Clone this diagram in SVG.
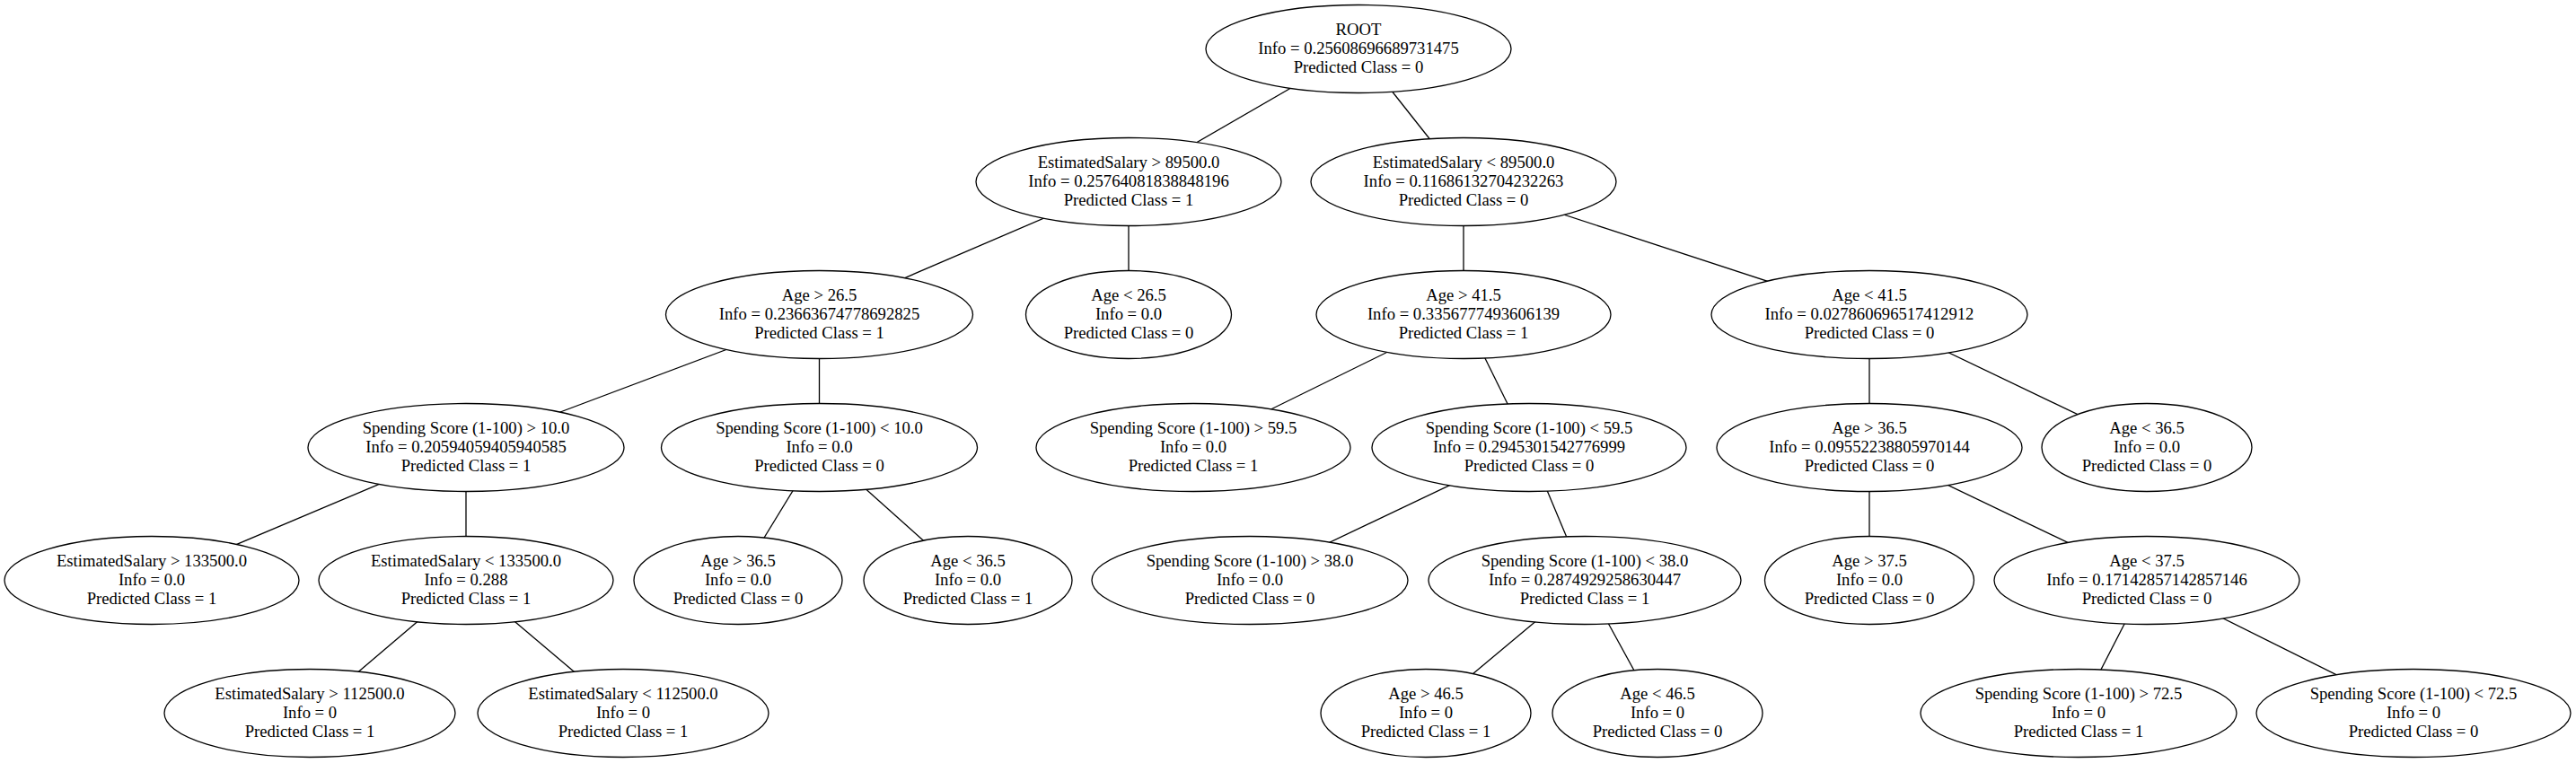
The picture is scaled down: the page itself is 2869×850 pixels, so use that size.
<svg xmlns="http://www.w3.org/2000/svg" width="2869" height="850" viewBox="0 0 2869 850">
<style>
.n ellipse{fill:#fff;stroke:#000;stroke-width:1.3}
.n text{font-family:"Liberation Serif","Times New Roman",serif;font-size:18.67px;text-anchor:middle;fill:#000}
#edges line{stroke:#000;stroke-width:1.3}
</style>
<rect width="2869" height="850" fill="#fff"/>
<g id="edges">
<line x1="1513" y1="54.5" x2="1257" y2="202.5"/>
<line x1="1513" y1="54.5" x2="1630" y2="202.5"/>
<line x1="1257" y1="202.5" x2="912.5" y2="350.5"/>
<line x1="1257" y1="202.5" x2="1257" y2="350.5"/>
<line x1="1630" y1="202.5" x2="1630" y2="350.5"/>
<line x1="1630" y1="202.5" x2="2082" y2="350.5"/>
<line x1="912.5" y1="350.5" x2="519" y2="498.5"/>
<line x1="912.5" y1="350.5" x2="912.5" y2="498.5"/>
<line x1="1630" y1="350.5" x2="1329" y2="498.5"/>
<line x1="1630" y1="350.5" x2="1703" y2="498.5"/>
<line x1="2082" y1="350.5" x2="2082" y2="498.5"/>
<line x1="2082" y1="350.5" x2="2391" y2="498.5"/>
<line x1="519" y1="498.5" x2="169" y2="646.5"/>
<line x1="519" y1="498.5" x2="519" y2="646.5"/>
<line x1="912.5" y1="498.5" x2="822" y2="646.5"/>
<line x1="912.5" y1="498.5" x2="1078" y2="646.5"/>
<line x1="1703" y1="498.5" x2="1392" y2="646.5"/>
<line x1="1703" y1="498.5" x2="1765" y2="646.5"/>
<line x1="2082" y1="498.5" x2="2082" y2="646.5"/>
<line x1="2082" y1="498.5" x2="2391" y2="646.5"/>
<line x1="519" y1="646.5" x2="345" y2="794.5"/>
<line x1="519" y1="646.5" x2="694" y2="794.5"/>
<line x1="1765" y1="646.5" x2="1588" y2="794.5"/>
<line x1="1765" y1="646.5" x2="1846" y2="794.5"/>
<line x1="2391" y1="646.5" x2="2315" y2="794.5"/>
<line x1="2391" y1="646.5" x2="2688" y2="794.5"/>
</g>
<g id="root" class="n" transform="translate(1513,54.5)"><ellipse rx="170" ry="49"/><text><tspan x="0" y="-16">ROOT</tspan><tspan x="0" y="5">Info = 0.25608696689731475</tspan><tspan x="0" y="26">Predicted Class = 0</tspan></text></g>
<g id="n_A" class="n" transform="translate(1257,202.5)"><ellipse rx="170" ry="49"/><text><tspan x="0" y="-16">EstimatedSalary &gt; 89500.0</tspan><tspan x="0" y="5">Info = 0.25764081838848196</tspan><tspan x="0" y="26">Predicted Class = 1</tspan></text></g>
<g id="n_B" class="n" transform="translate(1630,202.5)"><ellipse rx="170" ry="49"/><text><tspan x="0" y="-16">EstimatedSalary &lt; 89500.0</tspan><tspan x="0" y="5">Info = 0.11686132704232263</tspan><tspan x="0" y="26">Predicted Class = 0</tspan></text></g>
<g id="n_A1" class="n" transform="translate(912.5,350.5)"><ellipse rx="171" ry="49"/><text><tspan x="0" y="-16">Age &gt; 26.5</tspan><tspan x="0" y="5">Info = 0.23663674778692825</tspan><tspan x="0" y="26">Predicted Class = 1</tspan></text></g>
<g id="n_A2" class="n" transform="translate(1257,350.5)"><ellipse rx="114.5" ry="49"/><text><tspan x="0" y="-16">Age &lt; 26.5</tspan><tspan x="0" y="5">Info = 0.0</tspan><tspan x="0" y="26">Predicted Class = 0</tspan></text></g>
<g id="n_B1" class="n" transform="translate(1630,350.5)"><ellipse rx="164" ry="49"/><text><tspan x="0" y="-16">Age &gt; 41.5</tspan><tspan x="0" y="5">Info = 0.3356777493606139</tspan><tspan x="0" y="26">Predicted Class = 1</tspan></text></g>
<g id="n_B2" class="n" transform="translate(2082,350.5)"><ellipse rx="176" ry="49"/><text><tspan x="0" y="-16">Age &lt; 41.5</tspan><tspan x="0" y="5">Info = 0.027860696517412912</tspan><tspan x="0" y="26">Predicted Class = 0</tspan></text></g>
<g id="n_A1a" class="n" transform="translate(519,498.5)"><ellipse rx="176" ry="49"/><text><tspan x="0" y="-16">Spending Score (1-100) &gt; 10.0</tspan><tspan x="0" y="5">Info = 0.20594059405940585</tspan><tspan x="0" y="26">Predicted Class = 1</tspan></text></g>
<g id="n_A1b" class="n" transform="translate(912.5,498.5)"><ellipse rx="176" ry="49"/><text><tspan x="0" y="-16">Spending Score (1-100) &lt; 10.0</tspan><tspan x="0" y="5">Info = 0.0</tspan><tspan x="0" y="26">Predicted Class = 0</tspan></text></g>
<g id="n_B1a" class="n" transform="translate(1329,498.5)"><ellipse rx="175" ry="49"/><text><tspan x="0" y="-16">Spending Score (1-100) &gt; 59.5</tspan><tspan x="0" y="5">Info = 0.0</tspan><tspan x="0" y="26">Predicted Class = 1</tspan></text></g>
<g id="n_B1b" class="n" transform="translate(1703,498.5)"><ellipse rx="175" ry="49"/><text><tspan x="0" y="-16">Spending Score (1-100) &lt; 59.5</tspan><tspan x="0" y="5">Info = 0.2945301542776999</tspan><tspan x="0" y="26">Predicted Class = 0</tspan></text></g>
<g id="n_B2a" class="n" transform="translate(2082,498.5)"><ellipse rx="170" ry="49"/><text><tspan x="0" y="-16">Age &gt; 36.5</tspan><tspan x="0" y="5">Info = 0.09552238805970144</tspan><tspan x="0" y="26">Predicted Class = 0</tspan></text></g>
<g id="n_B2b" class="n" transform="translate(2391,498.5)"><ellipse rx="117" ry="49"/><text><tspan x="0" y="-16">Age &lt; 36.5</tspan><tspan x="0" y="5">Info = 0.0</tspan><tspan x="0" y="26">Predicted Class = 0</tspan></text></g>
<g id="n_A1a1" class="n" transform="translate(169,646.5)"><ellipse rx="164" ry="49"/><text><tspan x="0" y="-16">EstimatedSalary &gt; 133500.0</tspan><tspan x="0" y="5">Info = 0.0</tspan><tspan x="0" y="26">Predicted Class = 1</tspan></text></g>
<g id="n_A1a2" class="n" transform="translate(519,646.5)"><ellipse rx="164" ry="49"/><text><tspan x="0" y="-16">EstimatedSalary &lt; 133500.0</tspan><tspan x="0" y="5">Info = 0.288</tspan><tspan x="0" y="26">Predicted Class = 1</tspan></text></g>
<g id="n_A1b1" class="n" transform="translate(822,646.5)"><ellipse rx="116" ry="49"/><text><tspan x="0" y="-16">Age &gt; 36.5</tspan><tspan x="0" y="5">Info = 0.0</tspan><tspan x="0" y="26">Predicted Class = 0</tspan></text></g>
<g id="n_A1b2" class="n" transform="translate(1078,646.5)"><ellipse rx="116" ry="49"/><text><tspan x="0" y="-16">Age &lt; 36.5</tspan><tspan x="0" y="5">Info = 0.0</tspan><tspan x="0" y="26">Predicted Class = 1</tspan></text></g>
<g id="n_B1b1" class="n" transform="translate(1392,646.5)"><ellipse rx="176" ry="49"/><text><tspan x="0" y="-16">Spending Score (1-100) &gt; 38.0</tspan><tspan x="0" y="5">Info = 0.0</tspan><tspan x="0" y="26">Predicted Class = 0</tspan></text></g>
<g id="n_B1b2" class="n" transform="translate(1765,646.5)"><ellipse rx="174" ry="49"/><text><tspan x="0" y="-16">Spending Score (1-100) &lt; 38.0</tspan><tspan x="0" y="5">Info = 0.2874929258630447</tspan><tspan x="0" y="26">Predicted Class = 1</tspan></text></g>
<g id="n_B2a1" class="n" transform="translate(2082,646.5)"><ellipse rx="116.5" ry="49"/><text><tspan x="0" y="-16">Age &gt; 37.5</tspan><tspan x="0" y="5">Info = 0.0</tspan><tspan x="0" y="26">Predicted Class = 0</tspan></text></g>
<g id="n_B2a2" class="n" transform="translate(2391,646.5)"><ellipse rx="170" ry="49"/><text><tspan x="0" y="-16">Age &lt; 37.5</tspan><tspan x="0" y="5">Info = 0.17142857142857146</tspan><tspan x="0" y="26">Predicted Class = 0</tspan></text></g>
<g id="n_A1a2a" class="n" transform="translate(345,794.5)"><ellipse rx="162" ry="49"/><text><tspan x="0" y="-16">EstimatedSalary &gt; 112500.0</tspan><tspan x="0" y="5">Info = 0</tspan><tspan x="0" y="26">Predicted Class = 1</tspan></text></g>
<g id="n_A1a2b" class="n" transform="translate(694,794.5)"><ellipse rx="162" ry="49"/><text><tspan x="0" y="-16">EstimatedSalary &lt; 112500.0</tspan><tspan x="0" y="5">Info = 0</tspan><tspan x="0" y="26">Predicted Class = 1</tspan></text></g>
<g id="n_B1b2a" class="n" transform="translate(1588,794.5)"><ellipse rx="117" ry="49"/><text><tspan x="0" y="-16">Age &gt; 46.5</tspan><tspan x="0" y="5">Info = 0</tspan><tspan x="0" y="26">Predicted Class = 1</tspan></text></g>
<g id="n_B1b2b" class="n" transform="translate(1846,794.5)"><ellipse rx="117" ry="49"/><text><tspan x="0" y="-16">Age &lt; 46.5</tspan><tspan x="0" y="5">Info = 0</tspan><tspan x="0" y="26">Predicted Class = 0</tspan></text></g>
<g id="n_B2a2a" class="n" transform="translate(2315,794.5)"><ellipse rx="176" ry="49"/><text><tspan x="0" y="-16">Spending Score (1-100) &gt; 72.5</tspan><tspan x="0" y="5">Info = 0</tspan><tspan x="0" y="26">Predicted Class = 1</tspan></text></g>
<g id="n_B2a2b" class="n" transform="translate(2688,794.5)"><ellipse rx="175" ry="49"/><text><tspan x="0" y="-16">Spending Score (1-100) &lt; 72.5</tspan><tspan x="0" y="5">Info = 0</tspan><tspan x="0" y="26">Predicted Class = 0</tspan></text></g>
</svg>
